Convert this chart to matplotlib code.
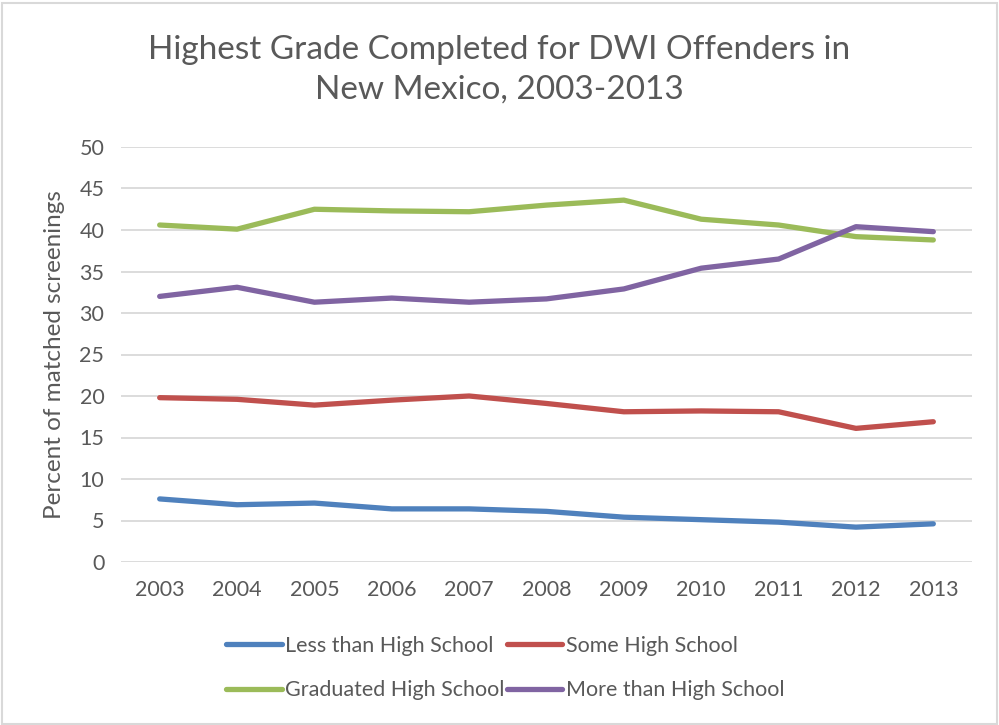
import matplotlib
matplotlib.use('Agg')
import matplotlib.pyplot as plt
from matplotlib.patches import Rectangle

# Datos
years = ['2003', '2004', '2005', '2006', '2007', '2008', '2009', '2010', '2011', '2012', '2013']
less_than_hs = [7.6, 6.9, 7.1, 6.4, 6.4, 6.1, 5.4, 5.1, 4.8, 4.2, 4.6]
some_hs = [19.8, 19.6, 18.9, 19.5, 20.0, 19.1, 18.1, 18.2, 18.1, 16.1, 16.9]
graduated_hs = [40.6, 40.1, 42.5, 42.3, 42.2, 43.0, 43.6, 41.3, 40.6, 39.2, 38.8]
more_than_hs = [32.0, 33.1, 31.3, 31.8, 31.3, 31.7, 32.9, 35.4, 36.5, 40.4, 39.8]

text_color = '#595959'
plt.rcParams['font.family'] = ['Lato', 'DejaVu Sans']

fig = plt.figure(figsize=(9.99, 7.25), dpi=100)
ax = fig.add_axes([121 / 999, 1 - 562 / 725, (972 - 121) / 999, (562 - 147) / 725])

x = range(len(years))
l1, = ax.plot(x, less_than_hs, color='#4F81BD', lw=3.8, solid_capstyle='round', label='Less than High School')
l2, = ax.plot(x, some_hs, color='#C0504D', lw=3.8, solid_capstyle='round', label='Some High School')
l3, = ax.plot(x, graduated_hs, color='#9BBB59', lw=3.8, solid_capstyle='round', label='Graduated High School')
l4, = ax.plot(x, more_than_hs, color='#8064A2', lw=3.8, solid_capstyle='round', label='More than High School')

ax.set_xlim(-0.5, len(years) - 0.5)
ax.set_ylim(0, 50)
ax.set_yticks(range(0, 51, 5))
ax.set_xticks(list(x))
ax.set_xticklabels(years)
ax.grid(axis='y', color='#d9d9d9', lw=1.3)
ax.set_axisbelow(True)
for s in ax.spines.values():
    s.set_visible(False)
ax.tick_params(length=0, labelsize=15.5, colors=text_color, pad=12)
ax.tick_params(axis='x', pad=13)
ax.set_ylabel('Percent of matched screenings', fontsize=17.5, color=text_color, labelpad=10)

fig.text(0.5, 1 - 70 / 725, 'Highest Grade Completed for DWI Offenders in\nNew Mexico, 2003-2013',
         ha='center', va='center', fontsize=24, color=text_color, linespacing=1.4)

fig.legend([l1, l3, l2, l4], [l1.get_label(), l3.get_label(), l2.get_label(), l4.get_label()],
           ncol=2, loc='center', bbox_to_anchor=(505 / 999, 1 - 668 / 725), frameon=False,
           fontsize=15.5, labelcolor=text_color, handlelength=2.6, handletextpad=0.15,
           columnspacing=0.1, labelspacing=1.15)

fig.patches.append(Rectangle((0.002, 0.002), 0.996, 0.994, transform=fig.transFigure,
                             fill=False, edgecolor='#d9d9d9', lw=1.5))

fig.savefig('out.png', dpi=100)
